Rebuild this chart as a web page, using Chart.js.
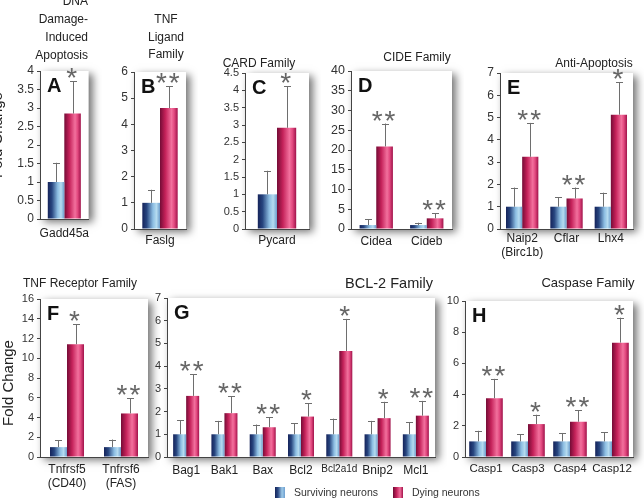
<!DOCTYPE html>
<html><head><meta charset="utf-8">
<script src="https://cdn.jsdelivr.net/npm/chart.js@4.4.1/dist/chart.umd.min.js"></script>
<style>
html,body{margin:0;padding:0;background:#fff;}
#wrap{position:relative;width:644px;height:501px;overflow:hidden;background:#fff;font-family:"Liberation Sans",Arial,sans-serif;color:#222;}
.t{position:absolute;white-space:nowrap;font-size:12px;line-height:18px;text-align:center;width:200px;z-index:5;}
.rot{position:absolute;white-space:nowrap;font-size:15px;line-height:18px;width:120px;height:18px;text-align:center;transform:rotate(-90deg);color:#222;z-index:5;}
.lg{position:absolute;width:10px;height:11px;z-index:5;}
.lt{position:absolute;font-size:10.5px;line-height:12px;white-space:nowrap;z-index:5;color:#333;}
</style></head><body>
<div id="wrap">
  <div class="t" style="left:-112px;width:200px;text-align:right;top:-8px;">DNA<br>Damage-<br>Induced<br>Apoptosis</div>
  <div class="t" style="left:66px;top:11px;line-height:17.5px;">TNF<br>Ligand<br>Family</div>
  <div class="t" style="left:159px;top:54px;">CARD Family</div>
  <div class="t" style="left:317px;top:48px;">CIDE Family</div>
  <div class="t" style="left:494px;top:54px;">Anti-Apoptosis</div>
  <div class="t" style="left:-20px;top:274px;">TNF Receptor Family</div>
  <div class="t" style="left:289px;top:274px;font-size:14.5px;">BCL-2 Family</div>
  <div class="t" style="left:488px;top:274px;font-size:13px;">Caspase Family</div>
  <div class="rot" style="left:-63px;top:126px;">Fold Change</div>
  <div class="rot" style="left:-52px;top:374px;">Fold Change</div>
  <div class="lg" style="left:275px;top:487px;background:linear-gradient(90deg,#16255a 0%,#2c4a85 30%,#9cc9e8 70%,#6f9fcf 100%);"></div>
  <div class="lt" style="left:294px;top:486px;">Surviving neurons</div>
  <div class="lg" style="left:393px;top:487px;background:linear-gradient(90deg,#6e0b33 0%,#c2215a 35%,#f06c9a 70%,#a3124a 100%);"></div>
  <div class="lt" style="left:412px;top:486px;">Dying neurons</div>
</div>
<script>
// ---------------- DATA ----------------
const catsA = ['Gadd45a'];
const survA = [1.0];  const survErrA = [0.52];
const dyingA = [2.85]; const dyingErrA = [0.87];
const starsA = ['*'];

const catsB = ['Faslg'];
const survB = [1.0];  const survErrB = [0.50];
const dyingB = [4.62]; const dyingErrB = [0.83];
const starsB = ['**'];

const catsC = ['Pycard'];
const survC = [1.0];  const survErrC = [0.68];
const dyingC = [2.92]; const dyingErrC = [1.20];
const starsC = ['*'];

const catsD = ['Cidea', 'Cideb'];
const survD = [1.0, 1.0];  const survErrD = [1.45, 0.60];
const dyingD = [20.9, 2.7]; const dyingErrD = [5.8, 1.25];
const starsD = ['**', '**'];

const catsE = [['Naip2', '(Birc1b)'], 'Cflar', 'Lhx4'];
const survE = [1.0, 1.0, 1.0];  const survErrE = [0.86, 0.43, 0.63];
const dyingE = [3.24, 1.37, 5.13]; const dyingErrE = [1.52, 0.49, 1.46];
const starsE = ['**', '**', '*'];

const catsF = [['Tnfrsf5', '(CD40)'], ['Tnfrsf6', '(FAS)']];
const survF = [1.0, 1.0];  const survErrF = [0.70, 0.77];
const dyingF = [11.42, 4.41]; const dyingErrF = [2.03, 1.52];
const starsF = ['*', '**'];

const catsG = ['Bag1', 'Bak1', 'Bax', 'Bcl2', 'Bcl2a1d', 'Bnip2', 'Mcl1'];
const survG = [1.0, 1.0, 1.0, 1.0, 1.0, 1.0, 1.0];
const survErrG = [0.62, 0.59, 0.43, 0.49, 0.69, 0.59, 0.53];
const dyingG = [2.69, 1.93, 1.31, 1.78, 4.67, 1.71, 1.82];
const dyingErrG = [0.96, 0.75, 0.43, 0.58, 1.41, 0.72, 0.65];
const starsG = ['**', '**', '**', '*', '*', '*', '**'];

const catsH = ['Casp1', 'Casp3', 'Casp4', 'Casp12'];
const survH = [1.0, 1.0, 1.0, 1.0];
const survErrH = [0.68, 0.47, 0.54, 0.60];
const dyingH = [3.77, 2.11, 2.26, 7.33];
const dyingErrH = [1.24, 0.60, 0.74, 1.60];
const starsH = ['**', '*', '**', '*'];

const seriesNames = ['Surviving neurons', 'Dying neurons'];
// y-axis ranges (max, step)
const yAxisA = [4, 0.5], yAxisB = [6, 1], yAxisC = [4.5, 0.5], yAxisD = [40, 5];
const yAxisE = [7, 1], yAxisF = [16, 2], yAxisG = [7, 1], yAxisH = [10, 2];

// ---------------- RENDER ----------------
const FONT = '"Liberation Sans", Arial, sans-serif';
Chart.defaults.font.family = FONT;
Chart.defaults.color = '#333';
Chart.defaults.animation = false;

function gradSurv(ctx, x0, x1) {
  const g = ctx.createLinearGradient(x0, 0, x1, 0);
  g.addColorStop(0, '#15235a'); g.addColorStop(0.25, '#27457f');
  g.addColorStop(0.6, '#8cbde2'); g.addColorStop(0.8, '#b5dbf0');
  g.addColorStop(1, '#6d9dcc');
  return g;
}
function gradDying(ctx, x0, x1) {
  const g = ctx.createLinearGradient(x0, 0, x1, 0);
  g.addColorStop(0, '#740c36'); g.addColorStop(0.3, '#c42159');
  g.addColorStop(0.65, '#f2709d'); g.addColorStop(0.8, '#e34a80');
  g.addColorStop(1, '#a0124a');
  return g;
}

const fx = {
  id: 'fx',
  beforeDraw(chart) {
    const { ctx, chartArea: a } = chart;
    ctx.save();
    ctx.shadowColor = 'rgba(0,0,0,0.55)';
    ctx.shadowBlur = 8; ctx.shadowOffsetX = 4; ctx.shadowOffsetY = 3;
    ctx.fillStyle = '#fff';
    ctx.fillRect(a.left, a.top, a.right - a.left, a.bottom - a.top);
    ctx.restore();
  },
  beforeDatasetsDraw(chart) {
    chart.data.datasets.forEach((ds, di) => {
      chart.getDatasetMeta(di).data.forEach(el => {
        const x0 = el.x - el.width / 2, x1 = el.x + el.width / 2;
        const g = di === 0 ? gradSurv(chart.ctx, x0, x1) : gradDying(chart.ctx, x0, x1);
        el.options = Object.assign({}, el.options, { backgroundColor: g });
      });
    });
  },
  afterDatasetsDraw(chart, args, opts) {
    const { ctx, chartArea: a } = chart;
    const y = chart.scales.y;
    ctx.save();
    chart.data.datasets.forEach((ds, di) => {
      chart.getDatasetMeta(di).data.forEach((el, i) => {
        const top = y.getPixelForValue(ds.data[i] + ds.errs[i]);
        ctx.strokeStyle = '#6e6e6e'; ctx.lineWidth = 1;
        ctx.beginPath();
        ctx.moveTo(Math.round(el.x) + 0.5, el.y);
        ctx.lineTo(Math.round(el.x) + 0.5, top);
        ctx.moveTo(Math.round(el.x) - 3, Math.round(top) + 0.5);
        ctx.lineTo(Math.round(el.x) + 4, Math.round(top) + 0.5);
        ctx.stroke();
        if (di === 1 && opts.stars && opts.stars[i]) {
          ctx.font = '28px ' + FONT;
          ctx.fillStyle = '#666';
          ctx.textAlign = 'center'; ctx.textBaseline = 'alphabetic';
          try { ctx.letterSpacing = '2px'; } catch (e) {}
          ctx.fillText(opts.stars[i], el.x, top - 10 + 16);
          try { ctx.letterSpacing = '0px'; } catch (e) {}
        }
      });
    });
    ctx.font = 'bold 20px ' + FONT;
    ctx.fillStyle = '#111';
    ctx.textAlign = 'left'; ctx.textBaseline = 'top';
    ctx.fillText(opts.letter, a.left + 7, a.top + 5);
    ctx.restore();
  }
};

const panels = [
  { letter: 'A', cats: catsA, s: survA, se: survErrA, d: dyingA, de: dyingErrA, st: starsA, ya: yAxisA,
    box: { l: 40, t: 71, r: 90, b: 219 }, cp: 0.68, xh: 24, yf: 12, xf: 12, xp: 7 },
  { letter: 'B', cats: catsB, s: survB, se: survErrB, d: dyingB, de: dyingErrB, st: starsB, ya: yAxisB,
    box: { l: 134, t: 72, r: 186, b: 229 }, cp: 0.68, xh: 24, yf: 12, xf: 12, xp: 4 },
  { letter: 'C', cats: catsC, s: survC, se: survErrC, d: dyingC, de: dyingErrC, st: starsC, ya: yAxisC,
    box: { l: 245, t: 73, r: 309, b: 229 }, cp: 0.6, xh: 24, yf: 11, xf: 12, xp: 4 },
  { letter: 'D', cats: catsD, s: survD, se: survErrD, d: dyingD, de: dyingErrD, st: starsD, ya: yAxisD,
    box: { l: 351, t: 71, r: 452, b: 229 }, cp: 0.66, xh: 24, yf: 12.5, xf: 12, xp: 5 },
  { letter: 'E', cats: catsE, s: survE, se: survErrE, d: dyingE, de: dyingErrE, st: starsE, ya: yAxisE,
    box: { l: 500, t: 73, r: 633, b: 229 }, cp: 0.73, xh: 36, yf: 12, xf: 12, xp: 2 },
  { letter: 'F', cats: catsF, s: survF, se: survErrF, d: dyingF, de: dyingErrF, st: starsF, ya: yAxisF,
    box: { l: 40, t: 299, r: 148, b: 457 }, cp: 0.63, xh: 36, yf: 11, xf: 12, xp: 5 },
  { letter: 'G', cats: catsG, s: survG, se: survErrG, d: dyingG, de: dyingErrG, st: starsG, ya: yAxisG,
    box: { l: 167, t: 298, r: 435, b: 457 }, cp: 0.68, xh: 26, yf: 11, xf: 12, xp: 6, squeezeLong: true },
  { letter: 'H', cats: catsH, s: survH, se: survErrH, d: dyingH, de: dyingErrH, st: starsH, ya: yAxisH,
    box: { l: 465, t: 301, r: 633, b: 457 }, cp: 0.8, xh: 26, yf: 11, xf: 11.5, xp: 5 }
];

const fmt = (v) => String(Number(Number(v).toFixed(3)));

const wrap = document.getElementById('wrap');
panels.forEach(p => {
  const padT = 24, padL = 40, padR = 12;
  const W = p.box.r - p.box.l + padL + padR;
  const H = p.box.b - p.box.t + padT + p.xh;
  const c = document.createElement('canvas');
  c.width = W; c.height = H;
  c.style.cssText = `position:absolute;left:${p.box.l - padL}px;top:${p.box.t - padT}px;width:${W}px;height:${H}px;`;
  wrap.appendChild(c);
  new Chart(c, {
    type: 'bar',
    data: {
      labels: p.cats,
      datasets: [
        { label: seriesNames[0], data: p.s, errs: p.se, backgroundColor: '#4a78b0', borderWidth: 0,
          categoryPercentage: p.cp, barPercentage: 1.0 },
        { label: seriesNames[1], data: p.d, errs: p.de, backgroundColor: '#d8306a', borderWidth: 0,
          categoryPercentage: p.cp, barPercentage: 1.0 }
      ]
    },
    plugins: [fx],
    options: {
      responsive: false,
      animation: false,
      layout: { padding: { top: padT, left: 0, right: padR, bottom: 0 } },
      plugins: {
        legend: { display: false },
        tooltip: { enabled: false },
        fx: { stars: p.st, letter: p.letter }
      },
      scales: {
        x: {
          grid: { drawOnChartArea: false, drawTicks: false },
          border: { display: true, color: '#444', width: 1 },
          ticks: {
            autoSkip: false, maxRotation: 0, minRotation: 0, padding: p.xp, color: '#222',
            font: (ctx) => {
              const lab = ctx.tick && ctx.tick.label;
              const long = p.squeezeLong && typeof lab === 'string' && lab.length > 6;
              return { size: long ? p.xf - 2 : p.xf, family: FONT };
            }
          },
          afterFit: (s) => { s.height = p.xh; }
        },
        y: {
          min: 0, max: p.ya[0],
          grid: { drawOnChartArea: false, drawTicks: true, tickLength: 3, color: '#444' },
          border: { display: true, color: '#444', width: 1 },
          ticks: { stepSize: p.ya[1], padding: 3, color: '#333', font: { size: p.yf, family: FONT },
                   callback: (v) => fmt(v) },
          afterFit: (s) => { s.width = padL; }
        }
      }
    }
  });
});
</script>
</body></html>
